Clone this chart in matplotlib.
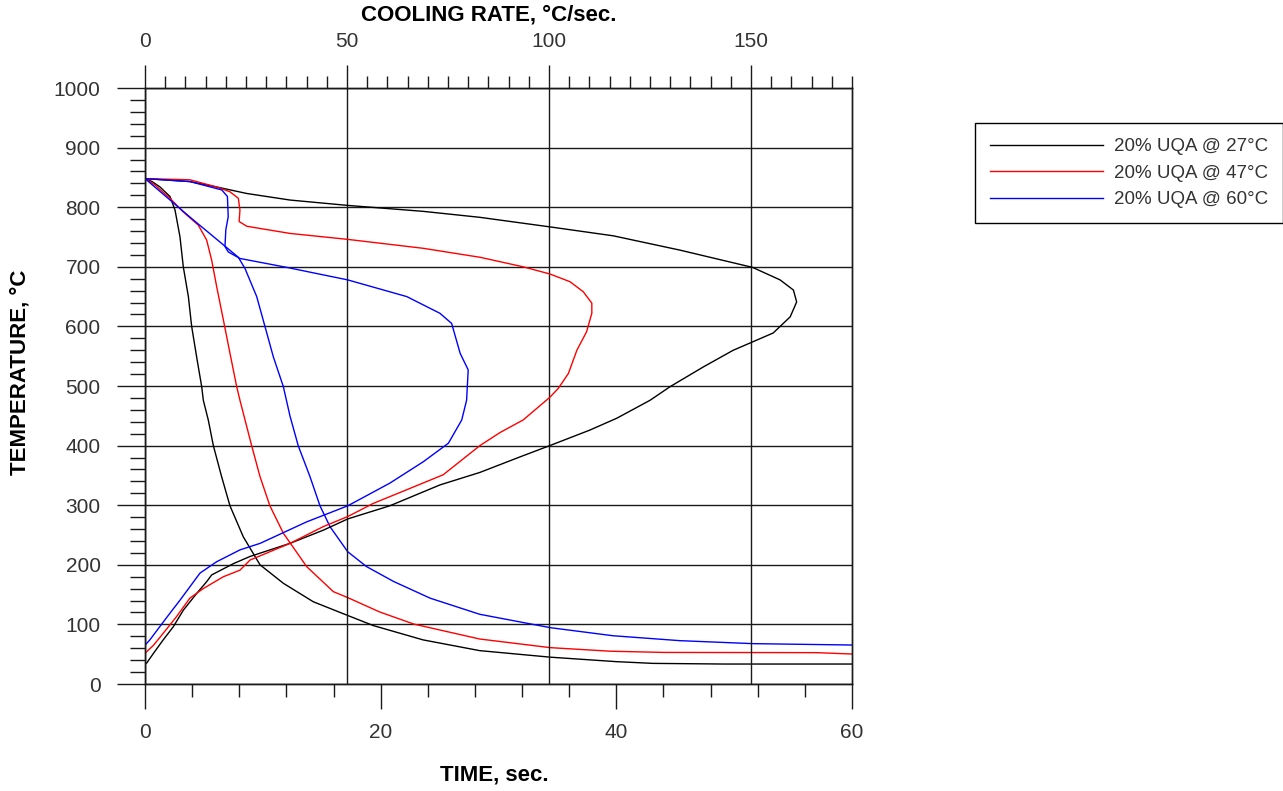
import matplotlib
matplotlib.use("Agg")
import matplotlib.pyplot as plt
from matplotlib.ticker import MultipleLocator

plt.rcParams['font.family'] = ['Liberation Sans', 'DejaVu Sans']

# series labels / colours
labels = ['20% UQA @ 27°C', '20% UQA @ 47°C', '20% UQA @ 60°C']
colors = ['#000000', '#ff0000', '#0000ff']

# cooling curves: temperature vs time (bottom axis)
time_27 = [0, 0.6, 1.27, 2.12, 2.55, 2.97, 3.25, 3.68, 3.96, 4.38, 4.81, 4.95, 5.37, 5.80, 6.5, 7.21,
           8.34, 9.76, 11.74, 14.28, 17.2, 19.38, 23.6, 28.4, 34.4, 40.0, 43.1, 49.1, 60]
temp_27 = [848, 843, 834, 818, 795, 750, 700, 650, 600, 549, 499, 476, 443, 400, 348, 299,
           247, 200, 169, 138, 115, 98, 74, 56, 45, 37.5, 34.6, 33.5, 33.5]

time_47 = [0, 0.8, 2.12, 3.25, 4.52, 5.23, 5.66, 6.08, 6.65, 7.21, 7.78, 8.06, 8.49, 9.05, 9.76, 10.6,
           11.74, 13.72, 15.98, 17.2, 19.9, 22.8, 28.4, 34.4, 39.5, 44, 57, 60]
temp_47 = [848, 838, 815, 792, 770, 745, 711, 667, 611, 555, 499, 476, 443, 400, 348, 299,
           253, 197, 155, 145, 121, 100.6, 75.5, 61, 55, 53, 52.6, 50.3]

time_60 = [0, 3.96, 7.92, 8.49, 9.48, 10.18, 10.89, 11.74, 12.3, 13.0, 14.0, 14.85, 15.7, 17.2,
           18.8, 21.1, 24.2, 28.4, 34.4, 39.7, 45.4, 51.6, 60]
temp_60 = [848, 781, 716, 697, 650, 600, 549, 499, 450, 400, 348, 299, 264, 222,
           197, 172, 144, 117, 94.5, 81, 72.7, 67.7, 65.4]

# cooling rate curves: temperature vs cooling rate (top axis)
rate_27 = [0, 11.1, 17.7, 25.2, 35.9, 50.2, 68.9, 82.9, 100.2, 115.9, 132.4, 150.4, 157.2, 160.5,
           161.3, 159.7, 155.5, 150.4, 145.6, 138.2, 130, 125, 116.8, 110.1, 100.2, 92.8, 82.9,
           73, 60.6, 50.2, 44.1, 35.9, 26, 21.9, 16.5, 15.3, 12.8, 9.5, 7, 4.5, 2.1, 0.4]
rtemp_27 = [848, 843, 834, 823, 812, 803, 793, 783, 767, 752, 728, 699, 678, 661,
            641, 616, 589, 574, 560, 532, 499, 476, 446, 426, 400, 381, 355,
            334, 299, 277, 258, 236, 214, 202, 183, 172, 152, 124, 96, 74, 51.5, 35]

rate_47 = [0, 11.1, 17.7, 21, 23.1, 23.5, 23.3, 25.2, 35.9, 50.2, 68.9, 82.9, 93.6, 100.2, 105.2,
           108.5, 110.6, 110.6, 109.3, 106.9, 104.8, 102.3, 100.2, 93.6, 87.9, 82.9, 73.8, 64.8,
           56.5, 50.2, 44.1, 35.9, 26, 23.5, 19.4, 14.4, 11.1, 7.8, 4.5, 2.1, 0]
rtemp_47 = [848, 846, 834, 826, 815, 795, 776, 768, 756, 746, 731, 716, 700, 688, 675,
            658, 639, 622, 591, 560, 521, 496, 481, 443, 422, 400, 351, 326,
            303, 281, 264, 236, 208, 191, 180, 160, 144, 113, 85, 65, 51.5]

rate_60 = [0, 11.1, 19, 20.4, 20.6, 20, 19.8, 20.6, 23.5, 35.1, 50.2, 64.8, 73, 75.9, 78, 80, 79.6,
           78.4, 75.1, 68.9, 60.6, 50.2, 40, 28.5, 23.5, 17.7, 13.6, 11.1, 8.7, 6.2, 3.3, 1.2, 0]
rtemp_60 = [848, 843, 829, 818, 784, 762, 734, 725, 714, 699, 678, 650, 622, 605, 555, 527, 476,
            443, 404, 373, 337, 299, 272, 236, 225, 205, 186, 163, 141, 119, 93, 74, 65]

fig = plt.figure(figsize=(12.83, 7.91), dpi=100)
ax = fig.add_axes([145 / 1283, 107 / 791, 707 / 1283, 596 / 791])
ax2 = ax.twiny()

grid_c = '#1a1a1a'
tick_c = '#333333'

for t, T, c in zip([time_27, time_47, time_60], [temp_27, temp_47, temp_60], colors):
    ax.plot(t, T, color=c, lw=1.0)

handles = []
for r, T, c, lab in zip([rate_27, rate_47, rate_60], [rtemp_27, rtemp_47, rtemp_60], colors, labels):
    h, = ax2.plot(r, T, color=c, lw=1.0, label=lab)
    handles.append(h)

ax.set_xlim(0, 60)
ax.set_ylim(0, 1000)
ax2.set_xlim(0, 175)

ax.xaxis.set_major_locator(MultipleLocator(20))
ax.xaxis.set_minor_locator(MultipleLocator(4))
ax.yaxis.set_major_locator(MultipleLocator(100))
ax.yaxis.set_minor_locator(MultipleLocator(20))
ax2.xaxis.set_major_locator(MultipleLocator(50))
ax2.xaxis.set_minor_locator(MultipleLocator(5))

for a in (ax, ax2):
    for s in a.spines.values():
        s.set_linewidth(1.0)
        s.set_color(grid_c)

ax.tick_params(axis='x', which='major', direction='out', length=18, width=1, pad=10,
               labelsize=15, labelcolor=tick_c, color=grid_c, top=False)
ax.tick_params(axis='x', which='minor', direction='out', length=9.4, width=1, color=grid_c, top=False)
ax.tick_params(axis='y', which='major', direction='out', length=20, width=1, pad=12,
               labelsize=15, labelcolor=tick_c, color=grid_c, right=False)
ax.tick_params(axis='y', which='minor', direction='out', length=10.8, width=1, color=grid_c, right=False)
ax2.tick_params(axis='x', which='major', direction='out', length=16.5, width=1, pad=10,
                labelsize=15, labelcolor=tick_c, color=grid_c)
ax2.tick_params(axis='x', which='minor', direction='out', length=8.6, width=1, color=grid_c)

ax.yaxis.grid(True, which='major', color=grid_c, lw=1.0)
ax2.xaxis.grid(True, which='major', color=grid_c, lw=1.0)

fig.text(489 / 1283, 1 - 15 / 791, 'COOLING RATE, °C/sec.', ha='center', va='center',
         fontsize=16, fontweight='bold')
fig.text(494 / 1283, 1 - 775 / 791, 'TIME, sec.', ha='center', va='center',
         fontsize=16, fontweight='bold')
fig.text(20 / 1283, 1 - 372 / 791, 'TEMPERATURE, °C', ha='center', va='center',
         rotation=90, fontsize=16, fontweight='bold')

leg = fig.legend(handles=handles, loc='upper left', bbox_to_anchor=(975 / 1283, 1 - 123 / 791),
                 frameon=True, fancybox=False, edgecolor='black', framealpha=1, fontsize=13.5,
                 handlelength=6, handletextpad=0.6, labelspacing=0.5, borderpad=0.8,
                 borderaxespad=0)
leg.get_frame().set_linewidth(1.0)
for txt in leg.get_texts():
    txt.set_color(tick_c)

fig.savefig('out.png', dpi=100)
